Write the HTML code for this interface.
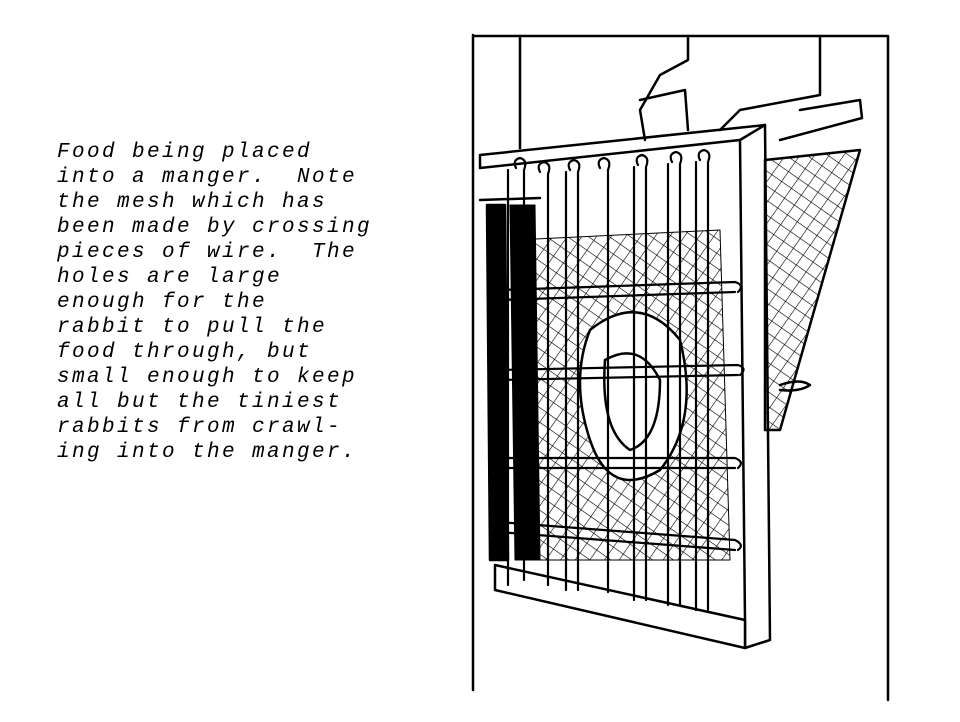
<!DOCTYPE html>
<html><head><meta charset="utf-8"><style>
html,body{margin:0;padding:0;background:#fff;}
body{width:960px;height:722px;position:relative;overflow:hidden;}
.t{position:absolute;left:57px;top:140px;font-family:"Liberation Mono",monospace;font-style:italic;font-size:21px;line-height:25px;letter-spacing:2.4px;color:#000;white-space:pre;}
svg{position:absolute;left:0;top:0;}
</style></head><body>
<div class="t">Food being placed
into a manger.  Note
the mesh which has
been made by crossing
pieces of wire.  The
holes are large
enough for the
rabbit to pull the
food through, but
small enough to keep
all but the tiniest
rabbits from crawl-
ing into the manger.</div>
<svg width="960" height="722" viewBox="0 0 960 722">
<defs>
<pattern id="m" width="12" height="12" patternUnits="userSpaceOnUse" patternTransform="rotate(35)">
<path d="M0 0H12M0 0V12" stroke="#000" stroke-width="1.2" fill="none"/>
</pattern>
</defs>
<g fill="none" stroke="#000" stroke-width="2.5" stroke-linecap="round" stroke-linejoin="round">
<path d="M473 35 V690 M473 36 H888 V700"/>
<path d="M520 36 V148 M688 36 V60 L660 75 L640 110 L645 140 M640 100 L685 90 L688 130 M740 110 L820 95 L820 36 M740 110 L720 130"/>
<path d="M800 110 L860 100 L862 118 L780 140" />
<path d="M765 160 L860 150 L780 430 L765 430 Z" fill="url(#m)"/>
<path d="M780 385 Q800 378 810 385 Q800 392 780 390"/>
<path d="M515 240 L720 230 L730 560 L530 560 Z" fill="url(#m)" stroke-width="1"/>
<path d="M590 330 Q640 290 680 340 Q700 420 660 470 Q610 500 590 440 Q570 380 590 330" fill="#fff"/>
<path d="M605 360 Q640 340 660 380 Q660 440 630 450 Q600 430 605 360"/>
<path d="M480 155 L765 125 L770 640 L745 648 L745 620 M480 155 L480 168 L740 140 L745 620"/>
<path d="M740 140 L765 125"/>
<path d="M487 205 L505 205 L508 560 L490 560 Z" fill="#000"/>
<path d="M510 205 L535 205 L540 560 L515 560 Z" fill="#000" stroke-width="1"/>
<path d="M480 200 L540 198"/>
<path d="M495 565 L745 620 L745 648 L495 590 Z" fill="#fff"/>
<g stroke-width="2.2">
<path d="M516 168 Q512 160 520 158 Q528 160 524 170 V580 M508 170 V585"/>
<path d="M540 172 Q536 164 544 162 Q552 164 548 174 V585"/>
<path d="M570 170 Q566 162 574 160 Q582 162 578 172 V590 M566 172 V590"/>
<path d="M600 168 Q596 160 604 158 Q612 160 608 170 V592"/>
<path d="M638 165 Q634 157 642 155 Q650 157 646 167 V600 M634 167 V600"/>
<path d="M672 162 Q668 154 676 152 Q684 154 680 164 V605 M668 164 V605"/>
<path d="M700 160 Q696 152 704 150 Q712 152 708 162 V610 M696 162 V610"/>
</g>
<g stroke-width="2.2">
<path d="M500 290 L735 282 Q745 285 738 292 M500 300 L735 292"/>
<path d="M500 370 L738 365 Q748 368 740 375 M500 380 L738 375"/>
<path d="M500 458 L735 458 Q745 462 738 468 M500 468 L735 468"/>
<path d="M498 522 L735 540 Q745 545 738 550 M498 532 L735 550"/>
</g>
</g>
</svg>
</body></html>
